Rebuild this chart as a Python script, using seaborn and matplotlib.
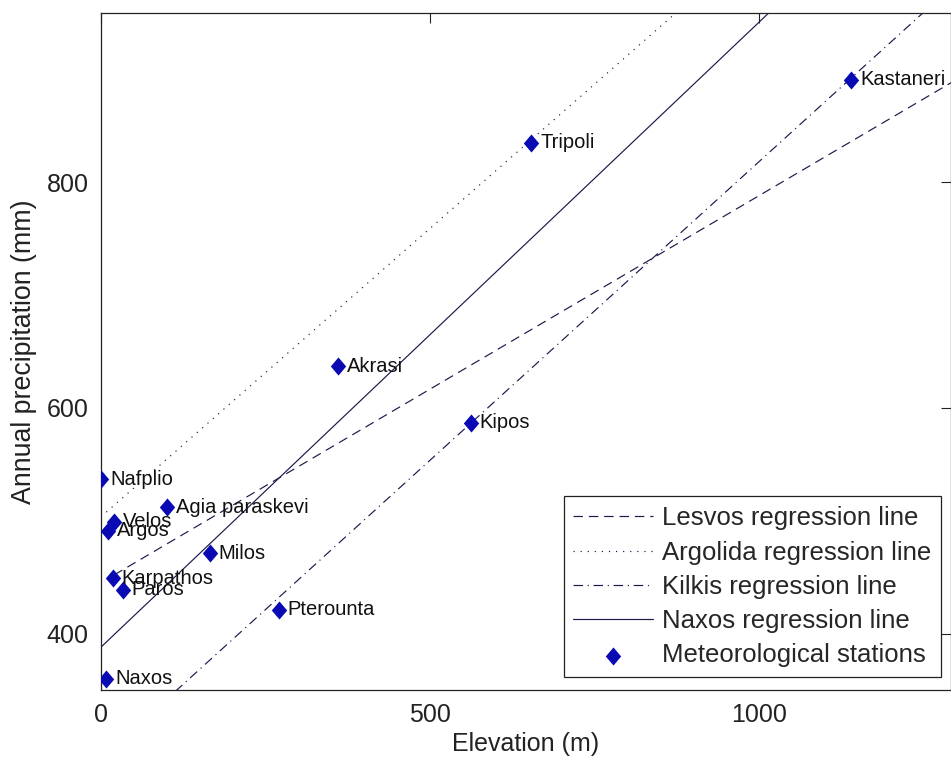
import numpy as np
import pandas as pd
import matplotlib
matplotlib.use("Agg")
import matplotlib.pyplot as plt
import seaborn as sns

# Meteorological stations (elevation in m, annual precipitation in mm)
station_names = ['Nafplio', 'Agia paraskevi', 'Velos', 'Argos', 'Milos', 'Karpathos',
                 'Paros', 'Pterounta', 'Naxos', 'Akrasi', 'Kipos', 'Tripoli', 'Kastaneri']
station_elev = [0, 100, 19, 10, 165, 18, 33, 270, 8, 360, 562, 654, 1140]
station_prec = [537, 512, 499, 491, 471, 449, 439, 421, 360, 637, 587, 835, 891]

# Regression lines, end points (x from, x to, y from, y to)
line_names = ['Lesvos regression line', 'Argolida regression line',
              'Kilkis regression line', 'Naxos regression line']
line_x0 = [20, 0, 0, 0]
line_x1 = [1300, 1300, 1300, 1300]
line_y0 = [452, 503.5, 289, 388]
line_y1 = [891, 1168, 977, 1108]
line_styles = [(0, (8, 5)), (0, (1, 5)), (0, (8, 4, 1, 4)), '-']

sns.set_theme(style='white')
plt.rcParams['font.family'] = ['Liberation Sans', 'DejaVu Sans']

fig = plt.figure(figsize=(9.51, 7.61), dpi=100)
ax = fig.add_axes([101 / 951, 1 - 690 / 761, 849.5 / 951, 677 / 761])

line_color = '#1a1a4a'
for name, xa, xb, ya, yb, ls in zip(line_names, line_x0, line_x1, line_y0, line_y1, line_styles):
    df = pd.DataFrame({'x': [xa, xb], 'y': [ya, yb]})
    sns.lineplot(data=df, x='x', y='y', ax=ax, color=line_color, linewidth=0.85,
                 linestyle=ls, label=name, legend=False)

stations = pd.DataFrame({'name': station_names, 'elev': station_elev, 'prec': station_prec})
diamond = [(0, 1), (0.85, 0), (0, -1), (-0.85, 0), (0, 1)]
sns.scatterplot(data=stations, x='elev', y='prec', ax=ax, marker=diamond, s=170,
                color='#0a0ab4', edgecolor='#0a0ab4', linewidth=0,
                label='Meteorological stations', legend=False, zorder=3)

for _, row in stations.iterrows():
    ax.annotate(row['name'], (row['elev'], row['prec']), xytext=(6.5, 0),
                textcoords='offset points', va='center', ha='left',
                fontsize=14.5, color='#111111', annotation_clip=False)

ax.set_xlim(0, 1291)
ax.set_ylim(350, 950)
ax.set_xticks([0, 500, 1000])
ax.set_yticks([400, 600, 800])
ax.tick_params(direction='in', length=7, width=0.8, labelsize=18,
               top=True, right=True, colors='#222222', pad=9)
for sp in ax.spines.values():
    sp.set_color('#222222')
    sp.set_linewidth(0.9)

ax.set_xlabel('Elevation (m)', fontsize=18, color='#222222', labelpad=4)
ax.set_ylabel('Annual precipitation (mm)', fontsize=19.3, color='#222222', labelpad=7)

leg = ax.legend(loc='lower right', bbox_to_anchor=(0.989, 0.019), borderaxespad=0,
                fontsize=18.5, handlelength=3.1, handletextpad=0.35, labelspacing=0.4,
                borderpad=0.38, fancybox=False, framealpha=1, edgecolor='#222222')
leg.get_frame().set_linewidth(0.9)

fig.savefig('out.png', dpi=100)
